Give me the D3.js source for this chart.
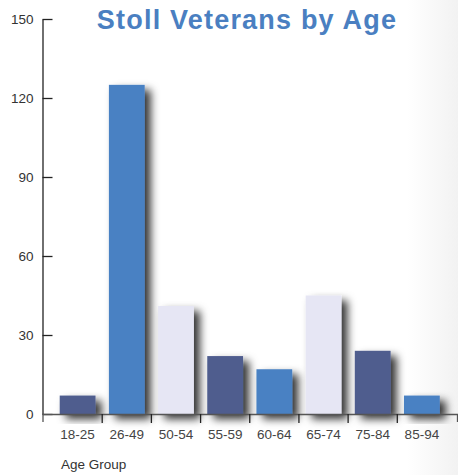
<!DOCTYPE html>
<html>
<head>
<meta charset="utf-8">
<script src="https://cdn.jsdelivr.net/npm/d3@7"></script>
<style>
  body { margin: 0; background: #fff; }
  text { font-family: "Liberation Sans", Arial, sans-serif; }
</style>
</head>
<body>
<div id="chart-area"></div>
<script>
var ageGroups = ["18-25", "26-49", "50-54", "55-59", "60-64", "65-74", "75-84", "85-94"];
var veterans = [7, 125, 41, 22, 17, 45, 24, 7];
var barColours = ["#4f5d8e", "#4a81c3", "#e6e6f4", "#4f5d8e", "#4a81c3", "#e6e6f4", "#4f5d8e", "#4a81c3"];
var yTicks = [0, 30, 60, 90, 120, 150];

var W = 458, H = 475;
var plot = { left: 42.5, right: 457, top: 19, bottom: 414 };

var svg = d3.select("#chart-area").append("svg")
    .attr("width", W)
    .attr("height", H);

var defs = svg.append("defs");

var grad = defs.append("linearGradient")
    .attr("id", "bg-grad")
    .attr("x1", "0").attr("x2", "1").attr("y1", "0").attr("y2", "0");
grad.append("stop").attr("offset", "0.89").attr("stop-color", "#ffffff");
grad.append("stop").attr("offset", "1").attr("stop-color", "#f2f2f2");

var shadow = defs.append("filter")
    .attr("id", "shadow")
    .attr("x", "-30%").attr("y", "-30%")
    .attr("width", "180%").attr("height", "180%");
shadow.append("feDropShadow")
    .attr("dx", 6)
    .attr("dy", 5)
    .attr("stdDeviation", 4)
    .attr("flood-color", "#000")
    .attr("flood-opacity", 0.8);

svg.append("rect")
    .attr("width", W)
    .attr("height", H)
    .attr("fill", "url(#bg-grad)");

var x = d3.scaleBand()
    .domain(ageGroups)
    .range([plot.left, plot.right])
    .paddingInner(0.272)
    .paddingOuter(0.35);

var y = d3.scaleLinear()
    .domain([0, 150])
    .range([plot.bottom, plot.top]);

// Title
svg.append("text")
    .attr("x", 247)
    .attr("y", 29)
    .attr("text-anchor", "middle")
    .attr("font-size", "27px")
    .attr("font-weight", "bold")
    .attr("letter-spacing", "1.2px")
    .attr("fill", "#4a7fc1")
    .text("Stoll Veterans by Age");

// Bars
svg.selectAll("rect.bar")
    .data(veterans)
    .enter()
    .append("rect")
    .attr("class", "bar")
    .attr("x", function(d, i) { return x(ageGroups[i]); })
    .attr("y", function(d) { return y(d); })
    .attr("width", x.bandwidth())
    .attr("height", function(d) { return y(0) - y(d); })
    .attr("fill", function(d, i) { return barColours[i]; })
    .attr("filter", "url(#shadow)");

// Y axis
var yAxisCall = d3.axisRight(y)
    .tickValues(yTicks)
    .tickSize(10)
    .tickSizeOuter(0)
    .tickFormat(d3.format("d"));
var yAxis = svg.append("g")
    .attr("class", "y-axis")
    .attr("transform", "translate(" + plot.left + ",0)")
    .call(yAxisCall);
yAxis.select(".domain").attr("stroke", "#222").attr("stroke-width", 1.3);
yAxis.selectAll(".tick line").attr("stroke", "#222").attr("stroke-width", 1.3);
yAxis.selectAll(".tick text")
    .attr("x", -9)
    .attr("text-anchor", "end")
    .attr("font-size", "13.5px")
    .attr("font-family", "Liberation Sans, Arial, sans-serif")
    .attr("fill", "#333");

// X axis
var xAxisCall = d3.axisBottom(x)
    .tickSizeInner(0)
    .tickSizeOuter(8)
    .tickPadding(15);
var xAxis = svg.append("g")
    .attr("class", "x-axis")
    .attr("transform", "translate(0," + plot.bottom + ")")
    .call(xAxisCall);
xAxis.select(".domain").attr("stroke", "#555").attr("stroke-width", 1.3);
xAxis.selectAll(".tick text")
    .attr("font-size", "13.5px")
    .attr("font-family", "Liberation Sans, Arial, sans-serif")
    .attr("fill", "#444");

// tick marks between groups
xAxis.selectAll("line.sep")
    .data(ageGroups.slice(0, -1))
    .enter()
    .append("line")
    .attr("class", "sep")
    .attr("x1", function(d) { return x(d) + x.bandwidth() + x.step() * x.paddingInner() / 2; })
    .attr("x2", function(d) { return x(d) + x.bandwidth() + x.step() * x.paddingInner() / 2; })
    .attr("y1", 0)
    .attr("y2", 9)
    .attr("stroke", "#222")
    .attr("stroke-width", 1.3);

svg.append("text")
    .attr("x", 61)
    .attr("y", 469)
    .attr("font-size", "13.5px")
    .attr("fill", "#333")
    .text("Age Group");
</script>
</body>
</html>
